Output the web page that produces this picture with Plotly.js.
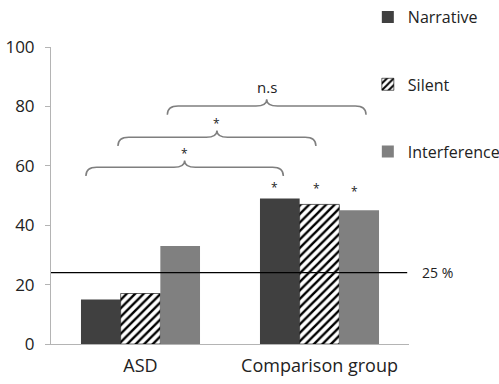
<!DOCTYPE html>
<html>
<head>
<meta charset="utf-8">
<script src="https://cdn.plot.ly/plotly-3.0.1.min.js"></script>
<style>html,body{margin:0;padding:0;background:#fff;}#chart{width:499px;height:384px;}</style>
</head>
<body>
<div id="chart"></div>
<script>
// ---- data ----
var categories = ['ASD', 'Comparison group'];
var seriesNames = ['Narrative', 'Silent', 'Interference'];
var narrative = [15, 49];
var silent = [17, 47];
var interference = [33, 45];
var chanceLevel = 24;
var chanceLabel = '25 %';
// significance braces: from x, to x, end y, label
var braceFrom = [-0.305, -0.126, 0.150];
var braceTo = [0.798, 0.980, 1.260];
var braceEndY = [56.6, 66.7, 77.2];
var braceLabels = ['*', '*', 'n.s'];
var groupStars = ['*', '*', '*'];
var groupStarX = [0.751, 0.984, 1.198];
var groupStarY = [52.8, 52.2, 51.5];

var xPos = categories.map(function (c, i) { return i; });
var font = 'Open Sans, sans-serif';

var traces = [
  {type: 'bar', name: seriesNames[0], x: xPos, y: narrative, legendgroup: 'a',
   marker: {color: '#404040'}},
  {type: 'bar', name: seriesNames[1], x: xPos, y: silent, legendgroup: 'b',
   marker: {color: '#ffffff', line: {color: '#000', width: 0.6},
            pattern: {shape: '/', fgcolor: '#000', bgcolor: '#fff', size: 6, solidity: 0.4}}},
  {type: 'bar', name: seriesNames[2], x: xPos, y: interference, legendgroup: 'c',
   marker: {color: '#808080'}}
];

function bracePath(x0, x1, yEnd) {
  var yH = yEnd + 2.9, yP = yEnd + 5.2, dx = 0.06;
  var xm = (x0 + x1) / 2;
  return 'M' + x0 + ',' + yEnd +
    ' Q' + x0 + ',' + yH + ' ' + (x0 + dx) + ',' + yH +
    ' L' + (xm - dx) + ',' + yH +
    ' Q' + xm + ',' + yH + ' ' + xm + ',' + yP +
    ' Q' + xm + ',' + yH + ' ' + (xm + dx) + ',' + yH +
    ' L' + (x1 - dx) + ',' + yH +
    ' Q' + x1 + ',' + yH + ' ' + x1 + ',' + yEnd;
}

var shapes = [
  {type: 'line', xref: 'paper', yref: 'y', x0: 0, x1: 0.995, y0: chanceLevel, y1: chanceLevel,
   line: {color: '#000', width: 1.3}, layer: 'above'}
];
var annotations = [
  {xref: 'paper', yref: 'y', x: 1.031, y: chanceLevel, xanchor: 'left', yanchor: 'middle',
   text: chanceLabel, showarrow: false, font: {family: font, size: 14, color: '#222'}}
];
braceFrom.forEach(function (x0, i) {
  shapes.push({type: 'path', xref: 'x', yref: 'y', path: bracePath(x0, braceTo[i], braceEndY[i]),
    line: {color: '#7f7f7f', width: 1.5}});
  var xm = (x0 + braceTo[i]) / 2;
  var isStar = braceLabels[i] === '*';
  annotations.push({xref: 'x', yref: 'y', x: xm, y: braceEndY[i] + (isStar ? 4.1 : 5.4), yanchor: 'bottom',
    text: braceLabels[i], showarrow: false,
    font: {family: font, size: isStar ? 12 : 15, color: '#222'}});
});
groupStars.forEach(function (s, i) {
  annotations.push({xref: 'x', yref: 'y', x: groupStarX[i], y: groupStarY[i], yanchor: 'middle',
    text: s, showarrow: false, font: {family: font, size: 12, color: '#222'}});
});

var layout = {
  width: 499, height: 384,
  margin: {l: 51, r: 90, t: 47, b: 40, autoexpand: false},
  paper_bgcolor: '#fff', plot_bgcolor: '#fff',
  barmode: 'group', bargap: 0.335, bargroupgap: 0,
  font: {family: font, size: 15, color: '#333'},
  xaxis: {range: [-0.5, 1.5], tickvals: xPos, ticktext: categories, showgrid: false, zeroline: false,
          showline: true, linecolor: '#b4b4b4', linewidth: 1, ticks: '', ticklabelstandoff: 5,
          tickfont: {family: font, size: 18, color: '#222'}, fixedrange: true},
  yaxis: {range: [0, 100], dtick: 20, showgrid: false, zeroline: false, showline: true,
          linecolor: '#b4b4b4', linewidth: 1, ticks: 'outside', ticklen: 5, tickcolor: '#b4b4b4',
          ticklabelstandoff: 7,
          tickfont: {family: font, size: 17, color: '#222'}, fixedrange: true},
  showlegend: true,
  legend: {x: 0.885, xanchor: 'left', y: 1.158, yanchor: 'top', tracegroupgap: 43.5,
           font: {family: font, size: 16, color: '#222'}, bgcolor: 'rgba(0,0,0,0)'},
  shapes: shapes,
  annotations: annotations
};

Plotly.newPlot('chart', traces, layout, {displayModeBar: false, staticPlot: true});
</script>
</body>
</html>
